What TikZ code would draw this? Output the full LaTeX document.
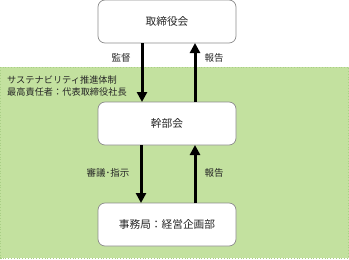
\documentclass[tikz,border=0pt]{standalone}
\usepackage{fontspec}
\setmainfont{Noto Sans CJK JP}
\usetikzlibrary{arrows.meta}
\definecolor{grn}{HTML}{C3E19F}
\definecolor{grnb}{HTML}{A9CF85}
\definecolor{boxb}{HTML}{8C8C8C}
\definecolor{txt}{HTML}{262626}
\tikzset{
  orgbox/.style={draw=boxb, line width=0.7pt, fill=white, rounded corners=7pt, minimum width=138pt, minimum height=43pt, inner sep=0pt, font=\fontsize{10.7}{12}\selectfont, text=txt},
  flow/.style={line width=3pt, -{Triangle[length=10pt,width=10pt]}},
  lbl/.style={font=\fontsize{9.5}{11}\selectfont, text=txt, inner sep=0pt}
}
\begin{document}
\begin{tikzpicture}[x=1pt,y=-1pt]
\useasboundingbox (0,0) rectangle (349,260);
\fill[grn] (0,67) rectangle (349,258);
\draw[grnb, dotted, line width=0.8pt] (0.5,67) rectangle (348.5,258);
\node[lbl, anchor=west, align=left, font=\fontsize{9.2}{12}\selectfont] (title) at (7,86) {サステナビリティ推進体制\\最高責任者：代表取締役社長};
\node[orgbox] (board) at (167,21.5) {取締役会};
\node[orgbox] (exec) at (167,123.5) {幹部会};
\node[orgbox] (office) at (167,224.5) {事務局：経営企画部};
\coordinate (a1s) at (142,43); \coordinate (a1e) at (142,102);
\coordinate (a2s) at (195,102); \coordinate (a2e) at (195,43);
\coordinate (a3s) at (141,145); \coordinate (a3e) at (141,203);
\coordinate (a4s) at (195,203); \coordinate (a4e) at (195,145);
\draw[flow] (a1s) -- (a1e);
\draw[flow] (a2s) -- (a2e);
\draw[flow] (a3s) -- (a3e);
\draw[flow] (a4s) -- (a4e);
\node[lbl] (l1) at (121,58) {監督};
\node[lbl] (l2) at (214,58) {報告};
\node[lbl] (l3) at (108,173) {審議･指示};
\node[lbl] (l4) at (214,173) {報告};
\end{tikzpicture}
\end{document}
